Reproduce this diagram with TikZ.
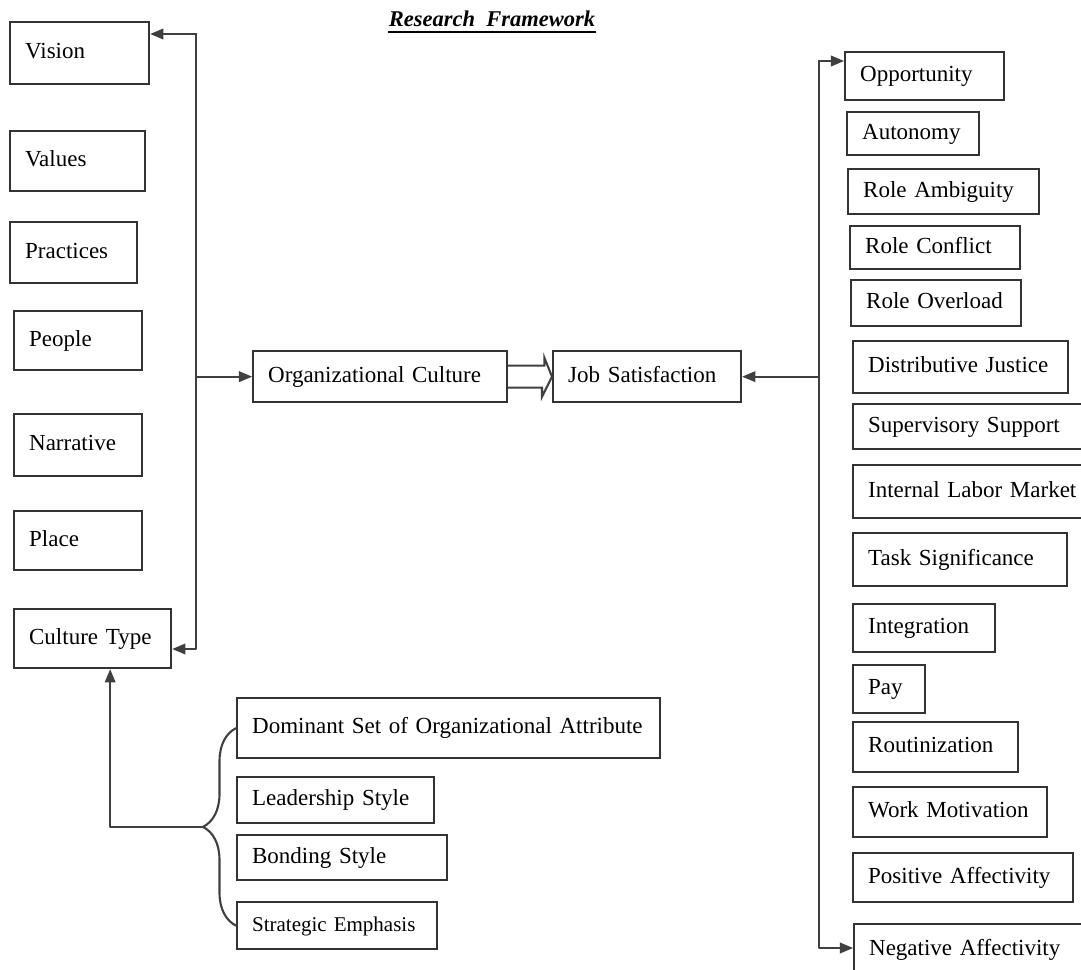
\documentclass[tikz,border=0pt]{standalone}
\usepackage{fontspec}
\setmainfont{Liberation Serif}
\usetikzlibrary{arrows}
\usetikzlibrary{decorations.pathreplacing}

\begin{document}
\begin{tikzpicture}[line cap=round,line join=round,>=triangle 45,x=1pt,y=-1pt,
  blk/.style={draw=black!80, line width=2.3pt, line join=miter, anchor=north west,
    inner xsep=15pt, align=left, text height=16pt, text depth=5pt,
    font=\fontsize{23}{27}\selectfont},
  conn/.style={draw=black!75, line width=2.1pt}]
\useasboundingbox (0,0) rectangle (1081,969);
\clip (0,0) rectangle (1081,969);

\node[font=\fontsize{22.5}{26}\selectfont\bfseries\itshape, inner sep=0pt, anchor=base] (title) at (492,27) {Research\ \ Framework};
\draw[line width=1.8pt] ([yshift=-5pt]title.base west) -- ([yshift=-5pt]title.base east);

% culture dimensions
\node[blk, text width=109pt, minimum height=62pt] (vision) at (9,21) {Vision};
\node[blk, text width=105pt, minimum height=60pt] (values) at (9,130) {Values};
\node[blk, text width=97pt, minimum height=61pt] (practices) at (9,221) {Practices};
\node[blk, text width=98pt, minimum height=59pt] (people) at (13,310) {People};
\node[blk, text width=98pt, minimum height=62pt] (narr) at (13,413) {Narrative};
\node[blk, text width=98pt, minimum height=59pt] (place) at (13,510) {Place};
\node[blk, text width=127pt, minimum height=59pt] (ctype) at (13,608) {Culture Type};

\node[blk, text width=224pt, minimum height=51pt] (orgc) at (252,350) {Organizational Culture};
\node[blk, text width=158pt, minimum height=51pt] (jobs) at (552,350) {Job Satisfaction};

% satisfaction factors
\node[blk, text width=129pt, minimum height=48pt] (opp) at (844,51) {Opportunity};
\node[blk, text width=102pt, minimum height=43pt] (auton) at (846,111) {Autonomy};
\node[blk, text width=161pt, minimum height=45pt] (ramb) at (847,168) {Role Ambiguity};
\node[blk, text width=140pt, minimum height=43pt] (rconf) at (849,225) {Role Conflict};
\node[blk, text width=140pt, minimum height=46pt] (rover) at (850,279) {Role Overload};
\node[blk, text width=185pt, minimum height=52pt] (djust) at (852,340) {Distributive Justice};
\node[blk, text width=218pt, minimum height=45pt] (ssupp) at (852,403) {Supervisory Support};
\node[blk, text width=218pt, minimum height=53pt] (ilm) at (852,464) {Internal Labor Market};
\node[blk, text width=184pt, minimum height=53pt] (tsig) at (852,532) {Task Significance};
\node[blk, text width=112pt, minimum height=48pt] (integ) at (852,603) {Integration};
\node[blk, text width=42pt, minimum height=48pt] (pay) at (852,664) {Pay};
\node[blk, text width=135pt, minimum height=50pt] (rout) at (852,721) {Routinization};
\node[blk, text width=164pt, minimum height=50pt] (wmot) at (852,786) {Work Motivation};
\node[blk, text width=190pt, minimum height=49pt] (posaff) at (852,852) {Positive Affectivity};
\node[blk, text width=217pt, minimum height=52pt] (negaff) at (853,923) {Negative Affectivity};

% culture type attributes
\node[blk, text width=393pt, minimum height=60pt] (dom) at (236,697) {Dominant Set of Organizational Attribute};
\node[blk, text width=167pt, minimum height=46pt] (lead) at (236,776) {Leadership Style};
\node[blk, text width=180pt, minimum height=45pt] (bond) at (236,834) {Bonding Style};
\node[blk, text width=170pt, minimum height=47pt, font=\fontsize{21}{25}\selectfont] (strat) at (236,901) {Strategic Emphasis};

% left tree
\coordinate (ltop) at (196,34);
\coordinate (lbot) at (196,649);
\draw[conn,->] (ltop) -- (ltop -| vision.east);
\draw[conn,->] (ltop) -- (lbot) -- (lbot -| ctype.east);
\draw[conn,->] (ltop |- orgc.west) -- (orgc.west);

% hollow arrow
\draw[conn, line join=miter] ([yshift=11pt]orgc.east) -- ++(36,0) -- ++(0,-8) -- (jobs.west)
  -- ++(-10,20) -- ++(0,-9) -- ([yshift=-11pt]orgc.east);

% right tree
\coordinate (rtop) at (819,61);
\coordinate (rbot) at (819,948);
\draw[conn,->] (rtop) -- (rtop -| opp.west);
\draw[conn,->] (rtop) -- (rbot) -- (rbot -| negaff.west);
\draw[conn,->] (rtop |- jobs.east) -- (jobs.east);

% brace to culture type
\draw[conn, decorate, decoration={brace, amplitude=33pt}] (strat.west) -- (dom.west);
\path (strat.west) -- (dom.west) coordinate[pos=0.5] (bmid);
\draw[conn,->] ([xshift=-33pt]bmid) -| ([xshift=17.5pt]ctype.south);
\end{tikzpicture}
\end{document}
